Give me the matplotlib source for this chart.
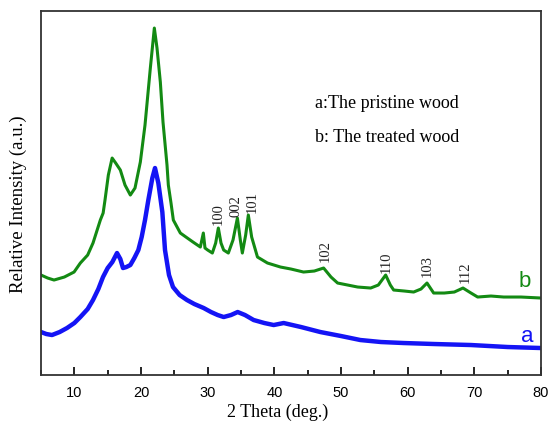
import matplotlib
matplotlib.use('Agg')
import matplotlib.pyplot as plt
from matplotlib.ticker import MultipleLocator, NullLocator

# curve b : treated wood (2theta, intensity a.u.)
theta_b = [5.0, 6.0, 6.95, 8.5, 9.96, 10.9, 12.0, 12.8, 13.9, 14.32, 14.6, 15.1,
           15.67, 16.2, 16.9, 17.6, 18.4, 19.1, 19.9, 20.6, 21.4, 22.0, 22.4,
           22.9, 23.3, 23.9, 24.1, 24.5, 24.85, 25.9, 26.95, 27.8, 28.9, 29.35,
           29.6, 30.0, 30.7, 31.2, 31.6, 32.0, 32.4, 33.1, 33.8, 34.46, 34.9,
           35.2, 35.7, 36.1, 36.6, 37.47, 38.97, 40.92, 42.5, 44.38, 46.0, 47.39,
           48.5, 49.49, 51.0, 52.5, 54.45, 55.6, 56.7, 57.4, 57.9, 59.5, 60.9,
           62.0, 62.9, 63.5, 63.9, 65.5, 67.0, 68.3, 69.5, 70.5, 72.5, 74.4,
           77.0, 80.0]
int_b = [100, 97, 95, 98, 103, 112, 120, 132, 155, 162, 175, 200,
         217, 212, 205, 190, 180, 187, 213, 250, 307, 347, 327,
         293, 253, 210, 190, 172, 155, 142, 137, 133, 128, 142,
         127, 125, 122, 132, 147, 132, 125, 122, 135, 157, 135,
         122, 140, 160, 138, 118, 112, 108, 106, 103, 104, 107,
         98, 92, 90, 88, 87, 90, 100, 90, 85, 84, 83,
         86, 92, 86, 82, 82, 83, 87, 82, 78, 79, 78,
         78, 77]

# curve a : pristine wood
theta_a = [5.0, 5.8, 6.65, 7.8, 8.9, 10.0, 10.9, 12.0, 12.8, 13.6, 14.3, 15.0,
           15.7, 16.4, 16.9, 17.3, 17.8, 18.4, 19.0, 19.6, 20.1, 20.6, 21.1,
           21.7, 22.1, 22.6, 23.2, 23.6, 24.2, 24.8, 25.8, 26.9, 28.0, 29.4,
           30.5, 31.5, 32.4, 33.5, 34.5, 35.6, 36.9, 38.5, 39.9, 41.4, 44.0,
           46.9, 50.0, 52.9, 56.0, 59.4, 64.0, 69.5, 75.0, 80.0]
int_a = [43, 41, 40, 43, 47, 52, 58, 66, 75, 86, 98, 107,
         113, 122, 116, 107, 108, 110, 117, 125, 138, 155, 175,
         197, 207, 192, 163, 125, 100, 88, 80, 75, 71, 67,
         63, 60, 58, 60, 63, 60, 55, 52, 50, 52, 48,
         43, 39, 35, 33, 32, 31, 30, 28, 27]

# reflection labels
hkl_labels = ['100', '002', '101', '102', '110', '103', '112']
hkl_x = [31.6, 34.2, 36.7, 47.7, 56.85, 63.0, 68.7]
hkl_y = [150, 158, 162, 113, 102, 98, 92]

GREEN = '#138a13'
BLUE = '#1414f5'

fig = plt.figure(figsize=(5.49, 4.25), dpi=100)
ax = fig.add_axes([0.0747, 0.1176, 0.9107, 0.8564])

ax.plot(theta_a, int_a, color=BLUE, lw=3.2, solid_joinstyle='round')
ax.plot(theta_b, int_b, color=GREEN, lw=2.2, solid_joinstyle='round')

serif = ['Liberation Serif', 'DejaVu Serif']
sans = ['Liberation Sans', 'DejaVu Sans']

for lab, x, y in zip(hkl_labels, hkl_x, hkl_y):
    ax.text(x, y, lab, rotation=90, ha='center', va='bottom',
            fontsize=10.5, family=serif, color='#222222')

ax.text(77.6, 94, 'b', color=GREEN, fontsize=16, family=sans, ha='center', va='center')
ax.text(78.0, 39, 'a', color=BLUE, fontsize=16, family=sans, ha='center', va='center')

ax.text(0.548, 0.745, 'a:The pristine wood', transform=ax.transAxes,
        fontsize=13, family=serif, va='center')
ax.text(0.548, 0.652, 'b: The treated wood', transform=ax.transAxes,
        fontsize=13, family=serif, va='center')

ax.set_xlim(5, 80)
ax.set_ylim(0, 364)
ax.xaxis.set_major_locator(MultipleLocator(10))
ax.xaxis.set_minor_locator(MultipleLocator(5))
ax.yaxis.set_major_locator(NullLocator())
ax.tick_params(axis='x', which='major', direction='in', length=6, width=1.2,
               labelsize=10.5, pad=8)
ax.tick_params(axis='x', which='minor', direction='in', length=3.5, width=1.2)
ax.tick_params(axis='x', top=False)
for lbl in ax.get_xticklabels():
    lbl.set_family(sans)
for s in ax.spines.values():
    s.set_linewidth(1.3)
    s.set_color('#333333')

ax.set_xlabel('2 Theta (deg.)', fontsize=13, family=serif)
ax.xaxis.set_label_coords(0.474, -0.08)
ax.set_ylabel('Relative Intensity (a.u.)', fontsize=13.5, family=serif)
ax.yaxis.set_label_coords(-0.028, 0.47)

fig.savefig('out.png', dpi=100)
